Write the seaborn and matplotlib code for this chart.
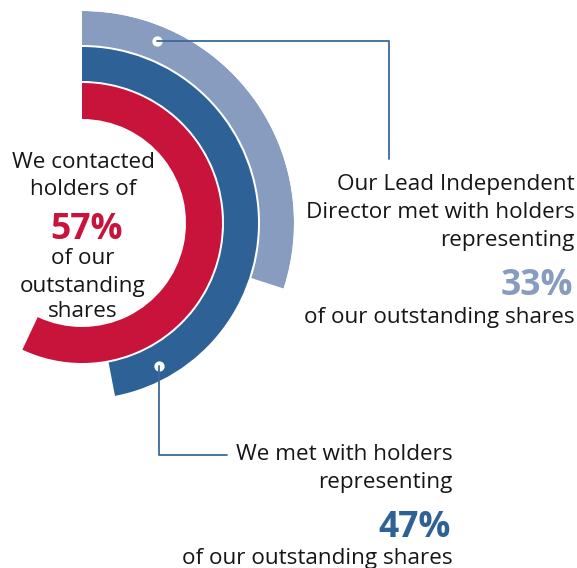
import numpy as np
import matplotlib
matplotlib.use("Agg")
import matplotlib.pyplot as plt
import seaborn as sns

# rings, inner to outer
ring_names = ["contacted", "met", "lead_director"]
ring_pct = [57, 47, 33]          # values shown in labels
arc_pct = [57, 47, 30]           # sweep of each arc as drawn in the reference
ring_colors = ["#c8133b", "#2e6196", "#889cc0"]

center_lines = ["We contacted", "holders of", "57%", "of our", "outstanding", "shares"]
right_lines = ["Our Lead Independent", "Director met with holders", "representing", "33%",
               "of our outstanding shares"]
bottom_lines = ["We met with holders", "representing", "47%", "of our outstanding shares"]

sns.set_theme(style="white")
plt.rcParams["font.family"] = ["Open Sans", "DejaVu Sans"]

W, H = 577, 568
fig = plt.figure(figsize=(W / 100, H / 100), dpi=100)

# polar axes centred on the ring centre (pixels)
cx, cy, R = 82, 223, 212
ax = fig.add_axes([(cx - R) / W, (H - cy - R) / H, 2 * R / W, 2 * R / H], projection="polar")
ax.set_theta_zero_location("N")
ax.set_theta_direction(-1)
ax.set_ylim(0, R)
ax.axis("off")

bottoms = [104, 142, 178]
widths = [36, 34, 34]
for pct, col, b, w in zip(arc_pct, ring_colors, bottoms, widths):
    ax.bar(0, w, width=np.deg2rad(pct * 3.6), bottom=b, align="edge", color=col, linewidth=0)

# white anchor dots
ax.scatter([np.deg2rad(22.4), np.deg2rad(151.7)], [197, 162], s=55, color="white", zorder=5,
           linewidths=0)

# overlay axes in pixel coordinates for leader lines and text
ov = fig.add_axes([0, 0, 1, 1])
ov.set_xlim(0, W)
ov.set_ylim(H, 0)
ov.axis("off")
ov.patch.set_alpha(0)

line_col = "#3a6a9c"
ov.plot([157, 389, 389], [41, 41, 159], color=line_col, lw=1.3, zorder=4)
ov.plot([159, 159, 227], [366, 455, 455], color=line_col, lw=1.3, zorder=4)

txt = "#161616"
fs, pfs = 16.2, 25.5

# centre block
cy_base = [168, 195, 239, 264, 292, 317]
for s, y in zip(center_lines, cy_base):
    if "%" in s:
        ov.text(86, y, s, ha="center", va="baseline", fontsize=pfs, fontweight="bold",
                color=ring_colors[0])
    else:
        ov.text(83, y, s, ha="center", va="baseline", fontsize=fs, color=txt)

# right block
ry_base = [190, 218, 246, 295, 323]
for s, y in zip(right_lines, ry_base):
    if "%" in s:
        ov.text(573, y, s, ha="right", va="baseline", fontsize=pfs, fontweight="bold",
                color=ring_colors[2])
    else:
        ov.text(575, y, s, ha="right", va="baseline", fontsize=fs, color=txt)

# bottom block
by_base = [460, 488, 537, 564]
for s, y in zip(bottom_lines, by_base):
    if "%" in s:
        ov.text(451, y, s, ha="right", va="baseline", fontsize=pfs, fontweight="bold",
                color=ring_colors[1])
    else:
        ov.text(453, y, s, ha="right", va="baseline", fontsize=fs, color=txt)

fig.savefig("out.png", dpi=100, facecolor="white")
